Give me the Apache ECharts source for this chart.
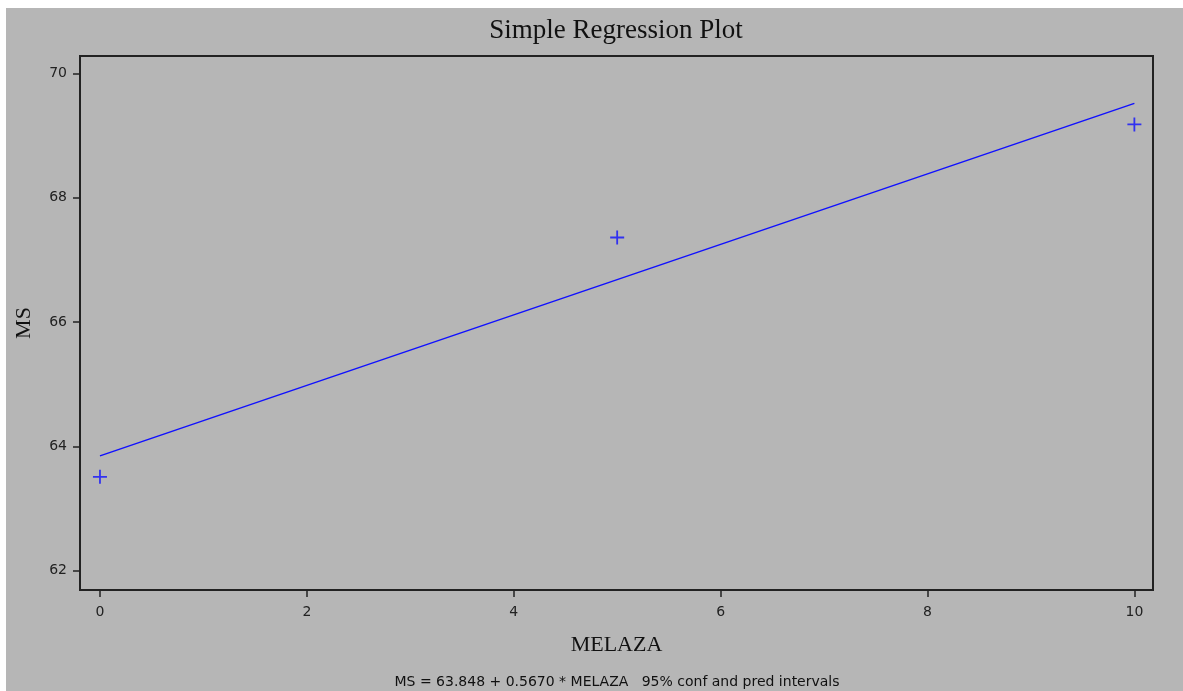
<!DOCTYPE html>
<html><head><meta charset="utf-8">
<script src="https://cdn.jsdelivr.net/npm/echarts@6/dist/echarts.min.js"></script>
<style>
html,body{margin:0;padding:0;background:#fff;width:1183px;height:691px;overflow:hidden}
#bg{position:absolute;left:6px;top:8px;right:0;bottom:0;background:#b6b6b6}
#c{position:absolute;left:0;top:0;width:1183px;height:691px}
</style></head><body>
<div id="bg"></div><div id="c"></div>
<script>
const points = [[0, 63.51], [5, 67.36], [10, 69.18]];
const fitLine = [[0, 63.848], [10, 69.518]];
const xTicks = [0, 2, 4, 6, 8, 10];
const yTicks = [62, 64, 66, 68, 70];
const chart = echarts.init(document.getElementById('c'), null, {renderer: 'canvas'});
const plus = 'path://M-0.9,-7 H0.9 V-0.9 H7 V0.9 H0.9 V7 H-0.9 V0.9 H-7 V-0.9 H-0.9 Z';
chart.setOption({
  backgroundColor: 'transparent',
  animation: false,
  title: [{
    text: 'Simple Regression Plot', left: 611, top: 12, textAlign: 'center',
    textStyle: {fontFamily: 'Liberation Serif', fontSize: 27, fontWeight: 'normal', color: '#111'}
  }, {
    text: 'MS = 63.848 + 0.5670 * MELAZA   95% conf and pred intervals', left: 612, top: 670, textAlign: 'center',
    textStyle: {fontFamily: 'DejaVu Sans', fontSize: 14, fontWeight: 'normal', color: '#111'}
  }],
  grid: {left: 80, top: 56, right: 30, bottom: 101, show: true, borderColor: '#222', borderWidth: 2, backgroundColor: 'transparent'},
  xAxis: {
    type: 'value', min: -0.193, max: 10.18,
    name: 'MELAZA', nameLocation: 'middle', nameGap: 44,
    nameTextStyle: {fontFamily: 'Liberation Serif', fontSize: 22, color: '#111'},
    axisLine: {show: true, onZero: false, lineStyle: {color: '#222', width: 2}},
    axisTick: {show: true, length: 7, lineStyle: {color: '#222', width: 1.5}, customValues: xTicks},
    axisLabel: {customValues: xTicks, margin: 15, fontFamily: 'DejaVu Sans', fontSize: 14, color: '#222'},
    splitLine: {show: false}
  },
  yAxis: {
    type: 'value', min: 61.69, max: 70.28,
    name: 'MS', nameLocation: 'middle', nameGap: 45,
    nameTextStyle: {fontFamily: 'Liberation Serif', fontSize: 22, color: '#111'},
    axisLine: {show: true, onZero: false, lineStyle: {color: '#222', width: 2}},
    axisTick: {show: true, length: 7, lineStyle: {color: '#222', width: 1.5}, customValues: yTicks},
    axisLabel: {customValues: yTicks, margin: 13, fontFamily: 'DejaVu Sans', fontSize: 14, color: '#222'},
    splitLine: {show: false}
  },
  series: [{
    type: 'line', data: fitLine, showSymbol: false, symbol: 'none',
    lineStyle: {color: '#1010ff', width: 1.5}
  }, {
    type: 'scatter', data: points, symbol: plus, symbolSize: 14,
    itemStyle: {color: '#1010ff'}
  }]
});
</script></body></html>
